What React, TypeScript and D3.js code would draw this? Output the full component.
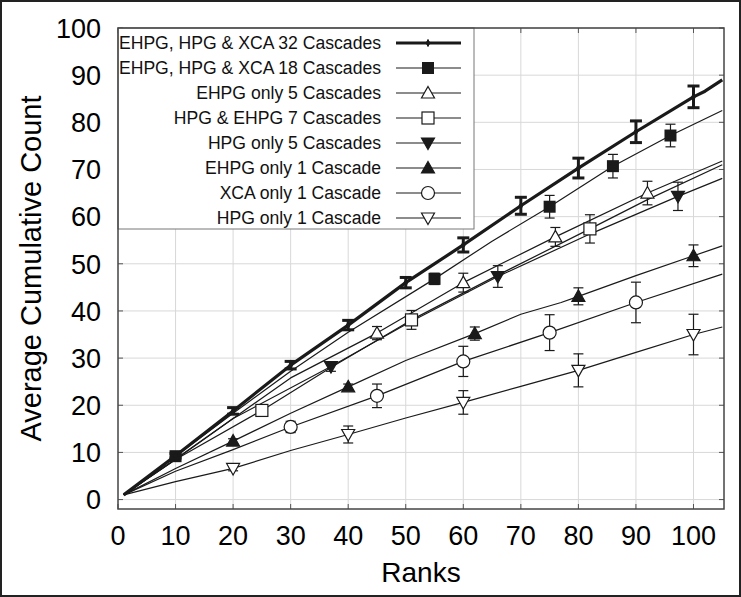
import React from 'react';
import * as d3 from 'd3';

const W = 741;
const H = 597;
const margin = { top: 28, right: 17, bottom: 88, left: 118 };

const xTicks = [0, 10, 20, 30, 40, 50, 60, 70, 80, 90, 100];
const yTicks = [0, 10, 20, 30, 40, 50, 60, 70, 80, 90, 100];

// [rank, count] for the lines, [rank, count, error] for the marked points
const all32Line = [[1, 1], [10, 9.3], [20, 18.8], [30, 28.5], [40, 37], [50, 46], [60, 54], [70, 62.3], [80, 70.3], [90, 78], [100, 85.4], [102, 86.6], [105, 89]];
const all32Pts = [[10, 9.3, 0.5], [20, 18.8, 0.7], [30, 28.5, 0.8], [40, 37, 1], [50, 46, 1.1], [60, 54, 1.5], [70, 62.3, 1.8], [80, 70.3, 2.1], [90, 78, 2.3], [100, 85.4, 2.3]];

const all18Line = [[1, 1], [10, 9.2], [20, 18.3], [30, 27.2], [40, 35.5], [55, 46.8], [65, 54.8], [75, 62.1], [86, 70.7], [96, 77.2], [105, 82.5]];
const all18Pts = [[10, 9.2, 0.5], [55, 46.8, 1.2], [75, 62.1, 2.4], [86, 70.7, 2.5], [96, 77.2, 2.4]];

const ehpg5Line = [[1, 1], [10, 8.6], [20, 17.2], [30, 25.8], [45, 35.3], [60, 46], [76, 55.7], [92, 65], [105, 71.8]];
const ehpg5Pts = [[45, 35.3, 1.4], [60, 46, 2], [76, 55.7, 2], [92, 65, 2.5]];

const hpgEhpg7Line = [[1, 1], [10, 8.5], [25, 18.9], [37, 28], [51, 38.1], [66, 47.6], [82, 57.4], [92, 63.6], [105, 71]];
const hpgEhpg7Pts = [[25, 18.9, 0.8], [51, 38.1, 2], [82, 57.4, 3]];

const hpg5Line = [[1, 1], [10, 8.5], [20, 17.2], [37, 28.2], [51, 37.8], [66, 47.3], [82, 56.3], [97.3, 64.3], [105, 68.1]];
const hpg5Pts = [[37, 28.2, 1], [66, 47.3, 2.3], [97.3, 64.3, 3]];

const ehpg1Line = [[1, 1], [10, 6.6], [20, 12.4], [30, 18.3], [40, 23.9], [50, 29.5], [62, 35.2], [70, 39.3], [77, 41.8], [80, 43.1], [90, 47.5], [100, 51.7], [105, 53.8]];
const ehpg1Pts = [[20, 12.4, 0.5], [40, 23.9, 0.6], [62, 35.2, 1.4], [80, 43.1, 1.8], [100, 51.7, 2.3]];

const xca1Line = [[1, 1], [10, 6], [20, 10.6], [30, 15.4], [45, 22], [60, 29.3], [75, 35.4], [90, 41.8], [105, 47.8]];
const xca1Pts = [[30, 15.4, 1.2], [45, 22, 2.5], [60, 29.3, 3.2], [75, 35.4, 3.8], [90, 41.8, 4.3]];

const hpg1Line = [[1, 1], [10, 3.8], [20, 6.6], [30, 10.4], [40, 13.8], [50, 17.3], [60, 20.6], [70, 24], [80, 27.4], [90, 31.2], [100, 35], [105, 36.6]];
const hpg1Pts = [[20, 6.6, 0.5], [40, 13.8, 1.8], [60, 20.6, 2.5], [80, 27.4, 3.5], [100, 35, 4.3]];

const seriesNames = [
  'EHPG, HPG & XCA 32 Cascades',
  'EHPG, HPG & XCA 18 Cascades',
  'EHPG only 5 Cascades',
  'HPG & EHPG 7 Cascades',
  'HPG only 5 Cascades',
  'EHPG only 1 Cascade',
  'XCA only 1 Cascade',
  'HPG only 1 Cascade',
];

type MarkerType = 'dot' | 'squareF' | 'triUpO' | 'squareO' | 'triDownF' | 'triUpF' | 'circleO' | 'triDownO';

const series: { name: string; line: number[][]; pts: number[][]; marker: MarkerType; thick?: boolean }[] = [
  { name: seriesNames[0], line: all32Line, pts: all32Pts, marker: 'dot', thick: true },
  { name: seriesNames[1], line: all18Line, pts: all18Pts, marker: 'squareF' },
  { name: seriesNames[2], line: ehpg5Line, pts: ehpg5Pts, marker: 'triUpO' },
  { name: seriesNames[3], line: hpgEhpg7Line, pts: hpgEhpg7Pts, marker: 'squareO' },
  { name: seriesNames[4], line: hpg5Line, pts: hpg5Pts, marker: 'triDownF' },
  { name: seriesNames[5], line: ehpg1Line, pts: ehpg1Pts, marker: 'triUpF' },
  { name: seriesNames[6], line: xca1Line, pts: xca1Pts, marker: 'circleO' },
  { name: seriesNames[7], line: hpg1Line, pts: hpg1Pts, marker: 'triDownO' },
];

const INK = '#1a1a1a';

function Marker({ type, x, y }: { type: MarkerType; x: number; y: number }) {
  const s = 6;
  switch (type) {
    case 'dot':
      return <circle cx={x} cy={y} r={2.2} fill={INK} />;
    case 'squareF':
      return <rect x={x - s} y={y - s} width={2 * s} height={2 * s} fill={INK} />;
    case 'squareO':
      return <rect x={x - s} y={y - s} width={2 * s} height={2 * s} fill="#fff" stroke={INK} strokeWidth={1.2} />;
    case 'circleO':
      return <circle cx={x} cy={y} r={6.5} fill="#fff" stroke={INK} strokeWidth={1.2} />;
    case 'triUpF':
    case 'triUpO':
      return (
        <path
          d={`M${x},${y - 6.5}L${x + 6.5},${y + 5}L${x - 6.5},${y + 5}Z`}
          fill={type === 'triUpF' ? INK : '#fff'}
          stroke={INK}
          strokeWidth={1.2}
        />
      );
    default:
      return (
        <path
          d={`M${x},${y + 6.5}L${x + 6.5},${y - 5}L${x - 6.5},${y - 5}Z`}
          fill={type === 'triDownF' ? INK : '#fff'}
          stroke={INK}
          strokeWidth={1.2}
        />
      );
  }
}

export default function App() {
  const x = d3.scaleLinear().domain([0, 105.3]).range([margin.left, W - margin.right]);
  const y = d3.scaleLinear().domain([-2, 100]).range([H - margin.bottom, margin.top]);
  const line = d3.line<number[]>().x(d => x(d[0])).y(d => y(d[1]));

  const x0 = x.range()[0], x1 = x.range()[1];
  const y0 = y.range()[0], y1 = y.range()[1];

  const drawOrder = [...series.slice(1), series[0]];

  // legend
  const legX = x0, legY = y1, legW = 356, legH = 201;
  const rowY = (i: number) => legY + 15 + i * 25;

  return (
    <svg width={W} height={H} style={{ position: 'absolute', left: 0, top: 0, background: '#fff' }}
      fontFamily="'Liberation Sans', Arial, Helvetica, sans-serif">
      <rect x={0} y={0} width={W} height={H} fill="#fff" />

      {/* grid */}
      <g stroke="#d8d8d8" strokeWidth={1}>
        {xTicks.filter(t => t > 0).map(t => <line key={'gx' + t} x1={x(t)} x2={x(t)} y1={y0} y2={y1} />)}
        {yTicks.map(t => <line key={'gy' + t} x1={x0} x2={x1} y1={y(t)} y2={y(t)} />)}
      </g>

      {/* inward ticks */}
      <g stroke="#555" strokeWidth={1}>
        {xTicks.map(t => (
          <g key={'tx' + t}>
            <line x1={x(t)} x2={x(t)} y1={y0} y2={y0 - 5} />
            <line x1={x(t)} x2={x(t)} y1={y1} y2={y1 + 5} />
          </g>
        ))}
        {yTicks.map(t => (
          <g key={'ty' + t}>
            <line x1={x0} x2={x0 + 5} y1={y(t)} y2={y(t)} />
            <line x1={x1} x2={x1 - 5} y1={y(t)} y2={y(t)} />
          </g>
        ))}
      </g>

      {/* lines */}
      {drawOrder.map(s => (
        <path key={'l' + s.name} d={line(s.line) || ''} fill="none" stroke={INK}
          strokeWidth={s.thick ? 3.2 : 1.2} strokeLinejoin="round" />
      ))}

      {/* error bars and markers */}
      {drawOrder.map(s => (
        <g key={'p' + s.name}>
          {s.pts.map((p, i) => {
            const cx = x(p[0]);
            const cw = s.thick ? 6 : 5;
            return (
              <g key={i} stroke={INK} strokeWidth={s.thick ? 3 : 1.2}>
                <line x1={cx} x2={cx} y1={y(p[1] - p[2])} y2={y(p[1] + p[2])} />
                <line x1={cx - cw} x2={cx + cw} y1={y(p[1] - p[2])} y2={y(p[1] - p[2])} />
                <line x1={cx - cw} x2={cx + cw} y1={y(p[1] + p[2])} y2={y(p[1] + p[2])} />
              </g>
            );
          })}
          {s.pts.map((p, i) => <Marker key={'m' + i} type={s.marker} x={x(p[0])} y={y(p[1])} />)}
        </g>
      ))}

      {/* legend */}
      <rect x={legX} y={legY} width={legW} height={legH} fill="#fff" stroke="#777" strokeWidth={1} />
      {series.map((s, i) => (
        <g key={'lg' + i}>
          <text x={381} y={rowY(i)} dy="0.36em" textAnchor="end" fontSize={17.6} fill="#111">{s.name}</text>
          <line x1={396} x2={461} y1={rowY(i)} y2={rowY(i)} stroke={INK} strokeWidth={s.thick ? 3.2 : 1.2} />
          {s.thick
            ? <line x1={428} x2={428} y1={rowY(i) - 3.5} y2={rowY(i) + 3.5} stroke={INK} strokeWidth={2} />
            : null}
          <Marker type={s.marker} x={428} y={rowY(i)} />
        </g>
      ))}

      {/* frame */}
      <rect x={x0} y={y1} width={x1 - x0} height={y0 - y1} fill="none" stroke="#444" strokeWidth={1.5} />

      {/* tick labels */}
      <g fontSize={27} fill="#000">
        {xTicks.map(t => (
          <text key={'lx' + t} x={x(t)} y={545} textAnchor="middle">{t}</text>
        ))}
        {yTicks.map(t => (
          <text key={'ly' + t} x={101} y={y(t)} dy="0.36em" textAnchor="end">{t}</text>
        ))}
      </g>

      <text x={(x0 + x1) / 2} y={582} textAnchor="middle" fontSize={28} fill="#000">Ranks</text>
      <text transform={`translate(41,${(y0 + y1) / 2}) rotate(-90)`} textAnchor="middle" fontSize={29} fill="#000">
        Average Cumulative Count
      </text>

      <rect x={1} y={1} width={W - 2} height={H - 2} fill="none" stroke="#222" strokeWidth={2} />
    </svg>
  );
}
